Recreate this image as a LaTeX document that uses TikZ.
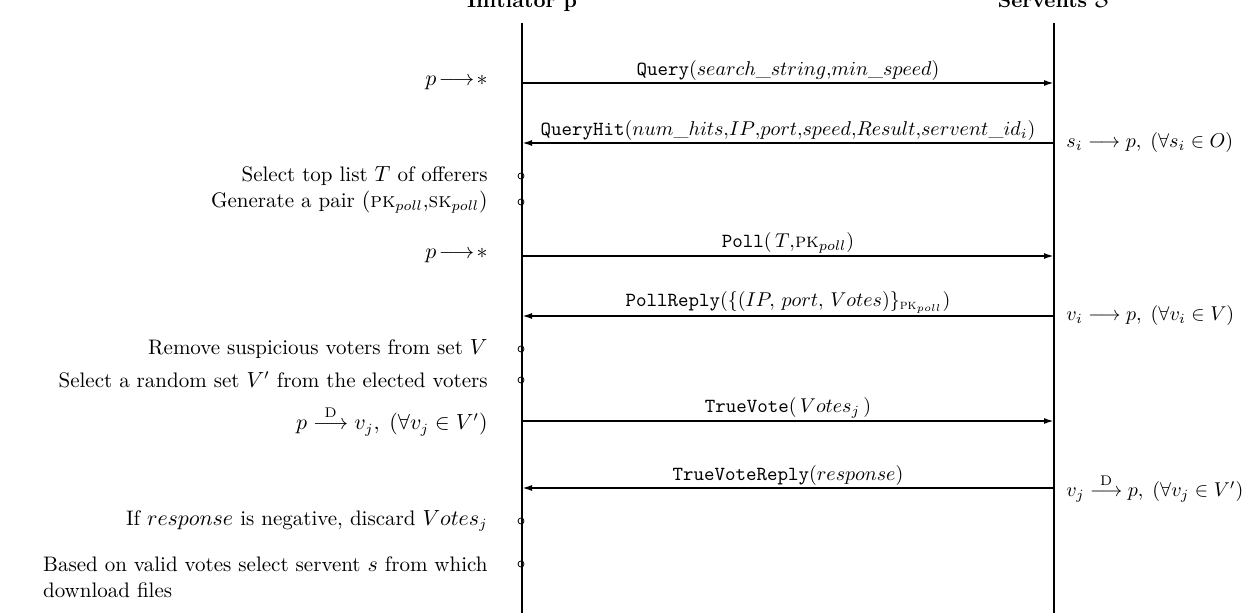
\documentclass[tikz,border=0pt]{standalone}
\usepackage{amsmath,amssymb}
\usetikzlibrary{arrows.meta}
\begin{document}
\begin{tikzpicture}[x=0.5pt,y=-0.5pt,
		font=\fontsize{10.5}{13}\selectfont,
		lifeline/.style={line width=1pt},
		msg/.style={line width=0.9pt, -{Latex[length=5pt,width=3pt]}},
		msglabel/.style={above=0pt, inner sep=1pt, font=\fontsize{10}{12}\selectfont},
		act/.style={anchor=east, inner sep=0pt},
		side/.style={anchor=west, inner sep=0pt, font=\fontsize{10}{12}\selectfont},
		evt/.style={draw, circle, inner sep=0pt, minimum size=3pt, line width=0.4pt}]
	\useasboundingbox (0,0) rectangle (1256,613);

	% Participants
	\node[font=\fontsize{10.5}{13}\bfseries, anchor=base] (init) at (522,8) {Initiator p};
	\node[font=\fontsize{10.5}{13}\bfseries, anchor=base] (serv) at (1054,8) {Servents $\mathcal{S}$};
	\coordinate (pTop) at (522,23);
	\coordinate (pBot) at (522,620);
	\coordinate (sTop) at (1054,23);
	\coordinate (sBot) at (1054,620);
	\draw[lifeline] (pTop) -- (pBot);
	\draw[lifeline] (sTop) -- (sBot);

	% Message ends on both lifelines
	\foreach \n/\y in {q/83, qh/143, poll/256, pr/316, tv/421, tvr/488} {
		\coordinate (p-\n) at (522,\y);
		\coordinate (s-\n) at (1054,\y);
	}

	% Query / QueryHit
	\draw[msg] (p-q) -- node[msglabel] {\texttt{Query}$(search\_string{,}min\_speed)$} (s-q);
	\node[act] (qsend) at (488,83) {$p\!\longrightarrow\!*$};
	\draw[msg] (s-qh) -- node[msglabel] {\texttt{QueryHit}$(num\_hits{,}IP{,}port{,}speed{,}Result{,}servent\_id_i)$} (p-qh);
	\node[side] (qhsend) at (1066,143) {$s_i\longrightarrow p,\;(\forall s_i \in O)$};

	% Local steps
	\node[evt] (e1) at (521,176) {};
	\node[act] (a1) at (488,176) {Select top list $T$ of offerers};
	\node[evt] (e2) at (521,202) {};
	\node[act] (a2) at (488,202) {Generate a pair $(\textsc{pk}_{poll}$,$\textsc{sk}_{poll})$};

	% Poll / PollReply
	\draw[msg] (p-poll) -- node[msglabel] {\texttt{Poll}$(\,T{,}\textsc{pk}_{poll})$} (s-poll);
	\node[act] (psend) at (488,256) {$p\!\longrightarrow\!*$};
	\draw[msg] (s-pr) -- node[msglabel] {\texttt{PollReply}$(\{(IP,\,port,\,Votes)\}_{\textsc{pk}_{poll}})$} (p-pr);
	\node[side] (prsend) at (1066,316) {$v_i\longrightarrow p,\;(\forall v_i \in V)$};

	% Local steps
	\node[evt] (e3) at (521,349) {};
	\node[act] (a3) at (488,349) {Remove suspicious voters from set $V$};
	\node[evt] (e4) at (521,380) {};
	\node[act] (a4) at (488,380) {Select a random set $V'$ from the elected voters};

	% TrueVote / TrueVoteReply
	\draw[msg] (p-tv) -- node[msglabel] {\texttt{TrueVote}$(\,Votes_j\,)$} (s-tv);
	\node[act] (tvsend) at (488,421) {$p\overset{\mbox{\scriptsize D}}{\longrightarrow}v_j,\;(\forall v_j \in V')$};
	\draw[msg] (s-tvr) -- node[msglabel] {\texttt{TrueVoteReply}$(response)$} (p-tvr);
	\node[side] (tvrsend) at (1066,488) {$v_j\overset{\mbox{\scriptsize D}}{\longrightarrow}p,\;(\forall v_j \in V')$};

	% Final steps
	\node[evt] (e5) at (521,521) {};
	\node[act] (a5) at (488,521) {If $response$ is negative, discard $Votes_j$};
	\node[evt] (e6) at (521,564) {};
	\node[anchor=north east, inner sep=0pt, align=left] (a6) at (488,556)
		{Based on valid votes select servent $s$ from which\\download files};
\end{tikzpicture}
\end{document}
